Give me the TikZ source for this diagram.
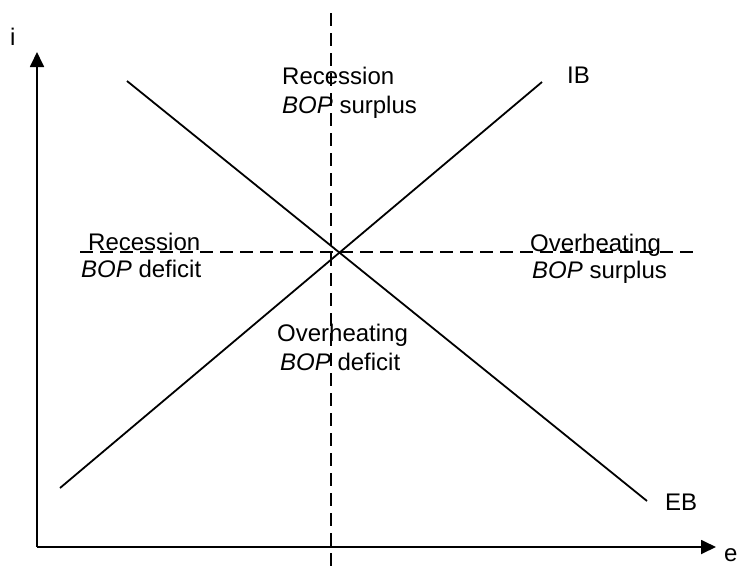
\documentclass[tikz,border=0pt]{standalone}
\usepackage{fontspec}
\setmainfont{Liberation Sans}
\usetikzlibrary{arrows.meta}
\begin{document}
\begin{tikzpicture}[x=1pt,y=-1pt,
  axis/.style={line width=1.8pt,-{Triangle[length=15pt,width=14pt]}},
  curve/.style={line width=1.8pt},
  guide/.style={line width=1.8pt,dash pattern=on 13pt off 7pt},
  lbl/.style={anchor=base west,inner sep=0pt,font=\fontsize{24}{28}\selectfont}]
\useasboundingbox (0,0) rectangle (745,566);
\fill[white] (0,0) rectangle (745,566);
% coordinates
\coordinate (O) at (37,547);
\coordinate (Ytip) at (37,52);
\coordinate (Xtip) at (716,547);
\coordinate (IBa) at (60,488);
\coordinate (IBb) at (542,82);
\coordinate (EBa) at (127,81);
\coordinate (EBb) at (647,501);
\coordinate (Vt) at (331,13);
\coordinate (Vb) at (331,566);
\coordinate (Hl) at (80,252);
\coordinate (Hr) at (697,252);
% guides
\draw[guide] (Vt) -- (Vb);
\draw[guide] (Hl) -- (Hr);
% axes
\draw[axis] (O) -- (Ytip);
\draw[axis] (O) -- (Xtip);
% curves
\draw[curve] (IBa) -- (IBb);
\draw[curve] (EBa) -- (EBb);
% labels
\node[lbl] (li) at (10,45) {i};
\node[lbl] (le) at (724,561) {e};
\node[lbl] (lIB) at (567,83) {IB};
\node[lbl] (lEB) at (665,510) {EB};
\node[lbl] (t1) at (282,84) {Recession};
\node[lbl] (t2) at (282,113) {\textit{BOP} surplus};
\node[lbl] (l1) at (88,250) {Recession};
\node[lbl] (l2) at (81,277) {\textit{BOP} deficit};
\node[lbl] (r1) at (530,251) {Overheating};
\node[lbl] (r2) at (532,278) {\textit{BOP} surplus};
\node[lbl] (b1) at (277,341) {Overheating};
\node[lbl] (b2) at (280,370) {\textit{BOP} deficit};
\end{tikzpicture}
\end{document}
